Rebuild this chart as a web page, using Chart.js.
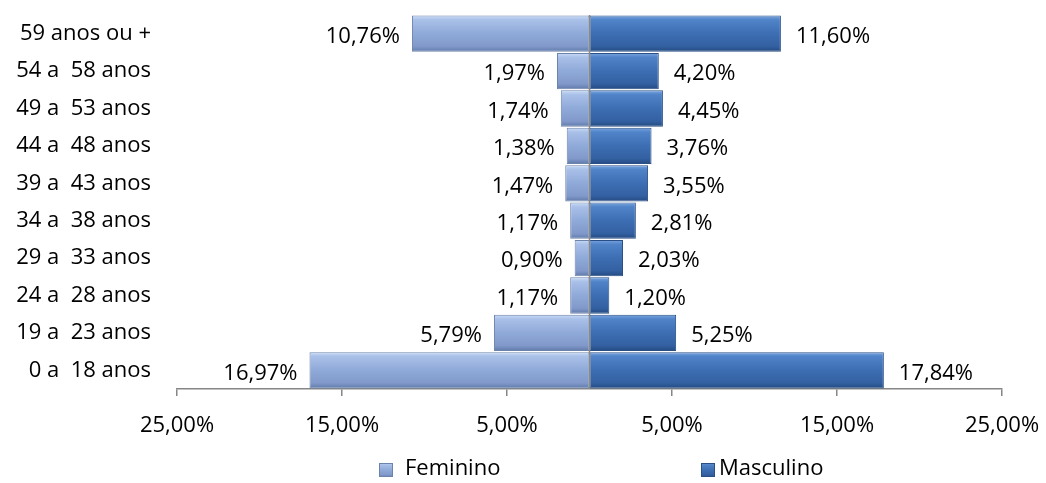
<!DOCTYPE html>
<html>
<head>
<meta charset="utf-8">
<script src="https://cdn.jsdelivr.net/npm/chart.js@4/dist/chart.umd.min.js"></script>
<style>
  html, body { margin: 0; padding: 0; background: #fff; }
  #wrap { position: relative; width: 1046px; height: 483px; }
</style>
</head>
<body>
<div id="wrap"><canvas id="pyramid" width="1046" height="483"></canvas></div>
<script>
// faixas etárias, de cima para baixo
const faixas = [
  '59 anos ou +', '54 a  58 anos', '49 a  53 anos', '44 a  48 anos', '39 a  43 anos',
  '34 a  38 anos', '29 a  33 anos', '24 a  28 anos', '19 a  23 anos', '0 a  18 anos',
];
const feminino  = [10.76, 1.97, 1.74, 1.38, 1.47, 1.17, 0.90, 1.17, 5.79, 16.97];
const masculino = [11.60, 4.20, 4.45, 3.76, 3.55, 2.81, 2.03, 1.20, 5.25, 17.84];
const xTicks    = [-25, -15, -5, 5, 15, 25];

const FONT = '"Open Sans", Lato, sans-serif';
const FSIZE = 22;
const BAR_PCT = 0.97;

const palette = {
  fem:  { stops: ['#cadcf6', '#a9c0e8', '#8fa9d8', '#8099ca', '#5f79a9'], border: '#6c83ab', solid: '#8fa9d8' },
  masc: { stops: ['#7ba7e1', '#5083c8', '#3d6eb3', '#3360a1', '#244a80'], border: '#2a4f86', solid: '#3d6eb3' },
};

const pct = v => Math.abs(v).toFixed(2).replace('.', ',') + '%';

function fillGrad(ctx, pal, top, bottom) {
  const g = ctx.createLinearGradient(0, top, 0, bottom);
  [0, 0.12, 0.5, 0.85, 1].forEach((s, i) => g.addColorStop(s, pal.stops[i]));
  return g;
}

function barFill(pal) {
  return (c) => {
    if (c.type !== 'data') return pal.solid;
    const y = c.chart.scales.y;
    if (!y) return pal.solid;
    const half = (y.height / faixas.length) * BAR_PCT / 2;
    const mid = y.getPixelForValue(c.dataIndex);
    if (!isFinite(half) || !isFinite(mid) || half <= 0) return pal.solid;
    return fillGrad(c.chart.ctx, pal, mid - half, mid + half);
  };
}

// linha vertical no zero + rótulos de valor + legenda
const extras = {
  id: 'extras',
  afterDatasetsDraw(chart) {
    const { ctx, chartArea, scales } = chart;
    const x0 = scales.x.getPixelForValue(0);
    ctx.save();
    ctx.strokeStyle = '#8a8a8a';
    ctx.lineWidth = 1.5;
    ctx.beginPath();
    ctx.moveTo(x0, chartArea.top);
    ctx.lineTo(x0, chartArea.bottom);
    ctx.stroke();

    ctx.font = FSIZE + 'px ' + FONT;
    ctx.fillStyle = '#000';
    ctx.textBaseline = 'middle';
    chart.data.datasets.forEach((ds, di) => {
      chart.getDatasetMeta(di).data.forEach((bar, i) => {
        const v = ds.data[i];
        if (v < 0) {
          ctx.textAlign = 'right';
          ctx.fillText(pct(v), bar.x - 12, bar.y + 3);
        } else {
          ctx.textAlign = 'left';
          ctx.fillText(pct(v), bar.x + 15, bar.y + 3);
        }
      });
    });
    ctx.restore();
  },
  afterDraw(chart) {
    const { ctx } = chart;
    const items = [
      { text: 'Feminino',  pal: palette.fem,  x: 379, gap: 26 },
      { text: 'Masculino', pal: palette.masc, x: 701, gap: 18 },
    ];
    ctx.save();
    ctx.font = FSIZE + 'px ' + FONT;
    ctx.textBaseline = 'middle';
    ctx.textAlign = 'left';
    items.forEach(it => {
      const top = 463, size = 14;
      ctx.fillStyle = fillGrad(ctx, it.pal, top, top + size);
      ctx.fillRect(it.x, top, size, size);
      ctx.strokeStyle = it.pal.border;
      ctx.lineWidth = 1;
      ctx.strokeRect(it.x + 0.5, top + 0.5, size - 1, size - 1);
      ctx.fillStyle = '#000';
      ctx.fillText(it.text, it.x + it.gap, 469);
    });
    ctx.restore();
  },
};

const chart = new Chart(document.getElementById('pyramid'), {
  type: 'bar',
  data: {
    labels: faixas,
    datasets: [
      {
        label: 'Feminino',
        data: feminino.map(v => -v),
        backgroundColor: barFill(palette.fem),
        borderColor: palette.fem.border,
        borderWidth: 1,
        borderSkipped: false,
        barPercentage: BAR_PCT,
        categoryPercentage: 1,
      },
      {
        label: 'Masculino',
        data: masculino,
        backgroundColor: barFill(palette.masc),
        borderColor: palette.masc.border,
        borderWidth: 1,
        borderSkipped: false,
        barPercentage: BAR_PCT,
        categoryPercentage: 1,
      },
    ],
  },
  options: {
    indexAxis: 'y',
    responsive: false,
    animation: false,
    layout: { padding: { top: 15, right: 44, bottom: 0, left: 0 } },
    plugins: { legend: { display: false }, tooltip: { enabled: false } },
    scales: {
      x: {
        stacked: true,
        min: -25,
        max: 25,
        afterBuildTicks: s => { s.ticks = xTicks.map(v => ({ value: v })); },
        afterFit: s => { s.height = 94; s.paddingLeft = 0; s.paddingRight = 0; },
        border: { display: true, color: '#868686', width: 1.5 },
        grid: { drawOnChartArea: false, drawTicks: true, tickLength: 7, color: '#868686', lineWidth: 1.5 },
        ticks: {
          color: '#000',
          font: { family: FONT, size: FSIZE },
          padding: 17,
          maxRotation: 0,
          callback: v => pct(v),
        },
      },
      y: {
        stacked: true,
        afterFit: s => { s.width = 177; s.paddingTop = 0; s.paddingBottom = 0; },
        border: { display: false },
        grid: { display: false, drawTicks: false },
        ticks: {
          color: '#000',
          font: { family: FONT, size: FSIZE },
          padding: 26,
        },
      },
    },
  },
  plugins: [extras],
});
chart.update();
</script>
</body>
</html>
